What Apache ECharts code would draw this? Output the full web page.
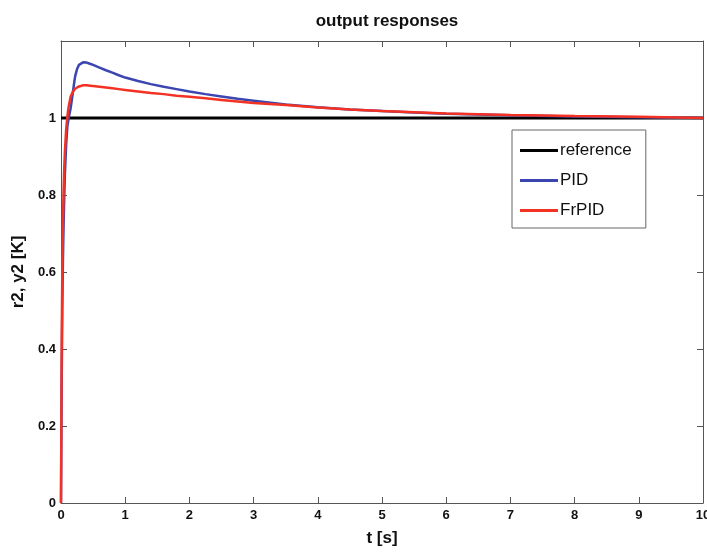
<!DOCTYPE html>
<html>
<head>
<meta charset="utf-8">
<script src="https://cdn.jsdelivr.net/npm/echarts@6/dist/echarts.min.js"></script>
<style>html,body{margin:0;padding:0;background:#fff;}#c{width:707px;height:552px;}</style>
</head>
<body>
<div id="c"></div>
<script>
var titleText = 'output responses';
var xName = 't [s]';
var yName = 'r2, y2 [K]';
var seriesNames = ['reference', 'PID', 'FrPID'];
var tRef = [0, 10];
var refValues = [1, 1];
var tSim = [0, 0.01, 0.02, 0.03, 0.04, 0.05, 0.06, 0.08, 0.1, 0.12, 0.15, 0.18, 0.2, 0.22, 0.25, 0.28, 0.3, 0.35, 0.4, 0.45, 0.5, 0.6, 0.7, 0.8, 0.9, 1, 1.2, 1.4, 1.6, 1.8, 2, 2.25, 2.5, 2.75, 3, 3.5, 4, 4.5, 5, 5.5, 6, 7, 8, 9, 10];
var pidValues = [0, 0.3, 0.5, 0.63, 0.72, 0.79, 0.85, 0.93, 0.98, 1.0, 1.025, 1.06, 1.085, 1.108, 1.127, 1.138, 1.142, 1.145, 1.144, 1.141, 1.138, 1.131, 1.124, 1.118, 1.111, 1.105, 1.096, 1.088, 1.081, 1.075, 1.069, 1.062, 1.056, 1.05, 1.045, 1.035, 1.028, 1.022, 1.018, 1.014, 1.011, 1.007, 1.004, 1.002, 1.0];
var frValues = [0, 0.4, 0.6, 0.73, 0.81, 0.87, 0.91, 0.97, 1.005, 1.03, 1.055, 1.067, 1.072, 1.076, 1.079, 1.082, 1.083, 1.085, 1.085, 1.084, 1.083, 1.081, 1.079, 1.077, 1.075, 1.073, 1.069, 1.065, 1.062, 1.058, 1.055, 1.051, 1.047, 1.043, 1.039, 1.034, 1.027, 1.022, 1.018, 1.015, 1.012, 1.008, 1.005, 1.003, 1.0];

function pairs(xs, ys) { return xs.map(function (x, i) { return [x, ys[i]]; }); }

var FONT = "'Liberation Sans Narrow', 'Liberation Sans', Arial, sans-serif";
var chart = echarts.init(document.getElementById('c'), null, {renderer: 'canvas'});
var axisLineStyle = {color: '#555', width: 1};
chart.setOption({
  backgroundColor: '#fff',
  animation: false,
  title: {
    text: titleText, left: 382, top: 8, textAlign: 'center',
    textStyle: {fontFamily: FONT, fontSize: 17, fontWeight: 'bold', color: '#111'}
  },
  grid: {left: 61, right: 4, top: 41, bottom: 49, containLabel: false, outerBoundsMode: 'none'},
  legend: {
    orient: 'vertical', left: 512, top: 130, width: 133,
    padding: [12, 14, 9, 8], itemGap: 13, itemWidth: 38, itemHeight: 3,
    icon: 'rect', borderColor: '#666', borderWidth: 1, backgroundColor: '#fff',
    textStyle: {fontFamily: FONT, fontSize: 17, color: '#111', padding: [0, 0, 0, -3]},
    data: seriesNames
  },
  xAxis: [{
    type: 'value', min: 0, max: 10, interval: 1, position: 'bottom',
    name: xName, nameLocation: 'middle', nameGap: 27,
    nameTextStyle: {fontFamily: FONT, fontSize: 17, fontWeight: 'bold', color: '#111'},
    axisLine: {onZero: false, lineStyle: axisLineStyle}, axisTick: {inside: true, length: 6, lineStyle: axisLineStyle},
    axisLabel: {fontFamily: FONT, fontSize: 13, fontWeight: 'bold', color: '#111', margin: 6, hideOverlap: false},
    splitLine: {show: false}
  }, {
    type: 'value', min: 0, max: 10, interval: 1, position: 'top',
    axisLine: {onZero: false, lineStyle: axisLineStyle}, axisTick: {inside: true, length: 6, lineStyle: axisLineStyle},
    axisLabel: {show: false}, splitLine: {show: false}
  }],
  yAxis: [{
    type: 'value', min: 0, max: 1.2, interval: 0.2, position: 'left',
    name: yName, nameLocation: 'middle', nameGap: 34, nameRotate: 90,
    nameTextStyle: {fontFamily: FONT, fontSize: 17, fontWeight: 'bold', color: '#111'},
    axisLine: {show: true, onZero: false, lineStyle: axisLineStyle}, axisTick: {show: true, inside: true, length: 6, lineStyle: axisLineStyle},
    axisLabel: {fontFamily: FONT, fontSize: 13, fontWeight: 'bold', color: '#111', margin: 5,
      formatter: function (v) { return v > 1.01 ? '' : String(Math.round(v * 10) / 10); }},
    splitLine: {show: false}
  }, {
    type: 'value', min: 0, max: 1.2, interval: 0.2, position: 'right',
    axisLine: {show: true, onZero: false, lineStyle: axisLineStyle}, axisTick: {show: true, inside: true, length: 6, lineStyle: axisLineStyle},
    axisLabel: {show: false}, splitLine: {show: false}
  }],
  series: [{
    name: seriesNames[0], type: 'line', data: pairs(tRef, refValues), showSymbol: false,
    color: '#000', lineStyle: {color: '#000', width: 3}, z: 3
  }, {
    name: seriesNames[1], type: 'line', data: pairs(tSim, pidValues), showSymbol: false,
    color: '#3b46b0', lineStyle: {color: '#3b46b0', width: 2.5}, z: 4
  }, {
    name: seriesNames[2], type: 'line', data: pairs(tSim, frValues), showSymbol: false,
    color: '#f43224', lineStyle: {color: '#f43224', width: 2.5}, z: 5
  }]
});
</script>
</body>
</html>
